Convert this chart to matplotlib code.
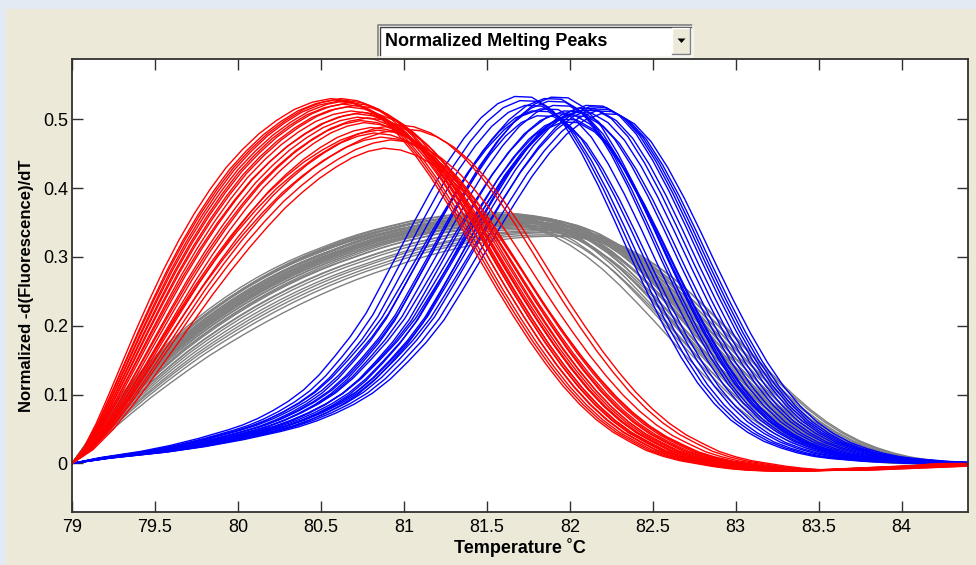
import numpy as np
import matplotlib
matplotlib.use('Agg')
import matplotlib.pyplot as plt
from matplotlib.patches import Rectangle, Polygon
from matplotlib.lines import Line2D

# temperature grid of the read-off profiles (deg C)
temps = np.round(np.arange(79.0, 84.41, 0.1), 1)

# typical curve of each group at every 0.1 deg C
red_base = [0.0, 0.022, 0.055, 0.095, 0.138, 0.182, 0.225, 0.267, 0.306, 0.342,
            0.375, 0.405, 0.43, 0.452, 0.47, 0.485, 0.495, 0.5, 0.497, 0.488,
            0.473, 0.452, 0.425, 0.393, 0.357, 0.318, 0.278, 0.239, 0.202, 0.167,
            0.135, 0.106, 0.081, 0.06, 0.043, 0.03, 0.018, 0.01, 0.004, 0.0,
            -0.004, -0.007, -0.009, -0.01, -0.01, -0.01, -0.009, -0.008, -0.007, -0.006,
            -0.005, -0.004, -0.003, -0.001, 0.0]
gray_base = [0.0, 0.025, 0.051, 0.076, 0.1, 0.122, 0.143, 0.163, 0.181, 0.198,
             0.214, 0.229, 0.243, 0.256, 0.268, 0.279, 0.289, 0.298, 0.307, 0.315,
             0.322, 0.328, 0.334, 0.338, 0.342, 0.344, 0.345, 0.345, 0.343, 0.339,
             0.333, 0.324, 0.311, 0.295, 0.276, 0.254, 0.23, 0.205, 0.179, 0.153,
             0.128, 0.104, 0.082, 0.063, 0.047, 0.034, 0.024, 0.016, 0.01, 0.006,
             0.003, 0.001, 0.0, 0.0, 0.0]
blue_base = [0.0, 0.004, 0.008, 0.011, 0.014, 0.017, 0.021, 0.025, 0.03, 0.035,
             0.041, 0.047, 0.054, 0.063, 0.074, 0.087, 0.103, 0.124, 0.15, 0.178,
             0.211, 0.253, 0.296, 0.34, 0.382, 0.422, 0.456, 0.484, 0.504, 0.514,
             0.513, 0.499, 0.473, 0.435, 0.39, 0.34, 0.288, 0.238, 0.191, 0.149,
             0.113, 0.084, 0.061, 0.044, 0.031, 0.022, 0.015, 0.01, 0.007, 0.005,
             0.003, 0.002, 0.001, 0.0, 0.0]
# (half-rise temperature, peak temperature, peak height) of each typical curve
red_base_key = (79.66, 80.7, 0.5)
gray_base_key = (79.75, 81.65, 0.345)
blue_base_key = (81.11, 81.95, 0.514)

# every single curve: half-rise temperature, peak temperature, peak height
red_half_T = [79.52, 79.54, 79.56, 79.55, 79.58, 79.57, 79.60, 79.59, 79.62, 79.61,
              79.64, 79.66, 79.68, 79.63, 79.70, 79.67, 79.72, 79.74, 79.70, 79.76,
              79.80, 79.78, 79.72, 79.75]
red_peak_T = [80.56, 80.58, 80.60, 80.62, 80.63, 80.65, 80.66, 80.67, 80.68, 80.70,
              80.71, 80.72, 80.74, 80.75, 80.76, 80.78, 80.80, 80.82, 80.84, 80.86,
              80.88, 80.92, 80.96, 81.00]
red_peak_h = [0.530, 0.528, 0.526, 0.530, 0.522, 0.527, 0.518, 0.524, 0.512, 0.520,
              0.508, 0.503, 0.498, 0.510, 0.495, 0.502, 0.488, 0.480, 0.484, 0.474,
              0.458, 0.470, 0.492, 0.486]
gray_half_T = [79.60, 79.62, 79.63, 79.64, 79.62, 79.65, 79.61, 79.66, 79.64, 79.63,
               79.67, 79.65, 79.66, 79.62, 79.68, 79.66, 79.69, 79.64, 79.67, 79.68,
               79.70, 79.66, 79.69, 79.71, 79.68, 79.72, 79.74, 79.73, 79.76, 79.75,
               79.80, 79.78, 79.84, 79.82, 79.88]
gray_peak_T = [81.45, 81.48, 81.50, 81.52, 81.53, 81.55, 81.56, 81.57, 81.58, 81.60,
               81.60, 81.61, 81.62, 81.63, 81.64, 81.65, 81.65, 81.66, 81.67, 81.68,
               81.69, 81.70, 81.71, 81.72, 81.73, 81.74, 81.75, 81.77, 81.78, 81.80,
               81.82, 81.84, 81.86, 81.88, 81.90]
gray_peak_h = [0.352, 0.358, 0.362, 0.348, 0.360, 0.355, 0.364, 0.350, 0.357, 0.361,
               0.346, 0.359, 0.354, 0.362, 0.351, 0.357, 0.347, 0.360, 0.353, 0.356,
               0.349, 0.358, 0.352, 0.345, 0.355, 0.350, 0.342, 0.348, 0.340, 0.344,
               0.336, 0.338, 0.332, 0.335, 0.330]
blue_half_T = [80.88, 80.92, 80.95, 81.00, 81.05, 80.98, 81.02, 81.06, 81.08, 81.10,
               81.14, 81.18, 81.22, 81.12, 81.16, 81.20, 81.24, 81.19, 81.26, 81.30,
               81.28, 81.33, 81.36]
blue_peak_T = [81.72, 81.75, 81.78, 81.82, 81.85, 81.88, 81.90, 81.92, 81.94, 81.95,
               81.97, 81.99, 82.00, 82.02, 82.05, 82.08, 82.10, 82.13, 82.15, 82.17,
               82.19, 82.21, 82.24]
blue_peak_h = [0.533, 0.527, 0.520, 0.512, 0.505, 0.515, 0.530, 0.526, 0.532, 0.520,
               0.508, 0.500, 0.496, 0.512, 0.505, 0.510, 0.516, 0.513, 0.520, 0.518,
               0.515, 0.512, 0.508]

x_ticks = [79, 79.5, 80, 80.5, 81, 81.5, 82, 82.5, 83, 83.5, 84]
x_ticklabels = ['79', '79.5', '80', '80.5', '81', '81.5', '82', '82.5', '83', '83.5', '84']
y_ticks = [0, 0.1, 0.2, 0.3, 0.4, 0.5]
y_ticklabels = ['0', '0.1', '0.2', '0.3', '0.4', '0.5']

W, H = 976, 565
fig = plt.figure(figsize=(W / 100, H / 100), dpi=100)
fig.patch.set_facecolor('#E3EAF4')
font = 'Liberation Sans'


def px_rect(x0, y0, x1, y1, **kw):
    # rectangle given in screen pixels (top-left origin)
    r = Rectangle((x0 / W, 1 - y1 / H), (x1 - x0) / W, (y1 - y0) / H,
                  transform=fig.transFigure, **kw)
    fig.add_artist(r)


def px_line(xs, ys, **kw):
    fig.add_artist(Line2D([x / W for x in xs], [1 - y / H for y in ys],
                          transform=fig.transFigure, **kw))


# beige figure panel, kept behind the axes
px_rect(6, 9, W, H, facecolor='#ECE9D8', edgecolor='none', zorder=-10)

# popup menu
px_rect(378, 25, 693, 57, facecolor='white', edgecolor='none')
px_line([378, 378, 693], [57, 25, 25], color='#808080', lw=1.2)
px_line([379.5, 379.5, 691.5], [56, 26.5, 26.5], color='#404040', lw=1.0)
px_line([378, 693, 693], [57, 57, 25], color='#F4F3EE', lw=1.2)
px_rect(672, 28, 690, 54, facecolor='#ECE9D8', edgecolor='none')
px_line([672, 672, 690], [54, 28, 28], color='white', lw=1.0)
px_line([672, 690, 690], [54, 54, 28], color='#808080', lw=1.0)
fig.add_artist(Polygon([[677.5 / W, 1 - 38.5 / H], [685.5 / W, 1 - 38.5 / H],
                        [681.5 / W, 1 - 43 / H]], closed=True,
                       transform=fig.transFigure, facecolor='black', edgecolor='none'))
fig.text(385 / W, 1 - 41.5 / H, 'Normalized Melting Peaks', fontsize=13,
         fontweight='bold', family=font, va='center', ha='left')

ax = fig.add_axes([72 / W, 1 - 511.7 / H, (968 - 72) / W, (511.7 - 59.3) / H])
ax.set_facecolor('white')


def warp(t, key, th, tm):
    # smooth remap of the typical curve's temperatures so that its start (79),
    # half-rise point and peak land on the single curve's ones;
    # past the peak the falling flank just moves along with the peak
    bh, bp, _ = key
    u1, u2 = bh - 79, bp - 79
    a, b = np.linalg.solve([[u1, u1 ** 2], [u2, u2 ** 2]], [th - 79, tm - 79])
    u = t - 79
    return np.where(t <= bp, 79 + a * u + b * u ** 2, t + (tm - bp))


groups = [
    (gray_base, gray_base_key, gray_half_T, gray_peak_T, gray_peak_h, '#808080'),
    (blue_base, blue_base_key, blue_half_T, blue_peak_T, blue_peak_h, '#0000FF'),
    (red_base, red_base_key, red_half_T, red_peak_T, red_peak_h, '#FF0000'),
]
for base, key, half_T, peak_T, peak_h, col in groups:
    base = np.array(base)
    for th, tm, h in zip(half_T, peak_T, peak_h):
        ax.plot(warp(temps, key, th, tm), base * h / key[2], color=col, lw=1.0)

ax.set_xlim(79, 84.4)
ax.set_ylim(-0.07, 0.587)
ax.set_xticks(x_ticks)
ax.set_xticklabels(x_ticklabels)
ax.set_yticks(y_ticks)
ax.set_yticklabels(y_ticklabels)
ax.tick_params(direction='in', length=8, width=1.0, color='#303030',
               top=True, right=True, labelsize=13)
ax.tick_params(axis='x', pad=5)
ax.tick_params(axis='y', pad=3)
for lab in ax.get_xticklabels() + ax.get_yticklabels():
    lab.set_family(font)
for s in ax.spines.values():
    s.set_color('#303030')
    s.set_linewidth(1.3)

ax.set_xlabel('Temperature \u02daC', fontsize=13, fontweight='bold', family=font, labelpad=2)
ax.set_ylabel('Normalized -d(Fluorescence)/dT', fontsize=12, fontweight='bold',
              family=font, labelpad=6)

fig.savefig('out.png', dpi=100, facecolor=fig.get_facecolor())
